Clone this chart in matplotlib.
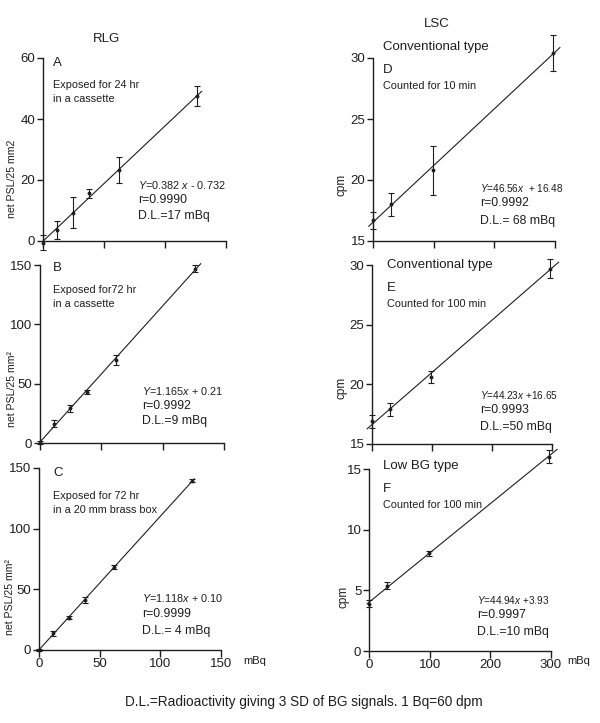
import matplotlib
matplotlib.use("Agg")
import matplotlib.pyplot as plt
import numpy as np

plt.rcParams['font.family'] = ['Liberation Sans', 'DejaVu Sans']
plt.rcParams['mathtext.fontset'] = 'custom'
plt.rcParams['mathtext.it'] = 'Liberation Sans:italic'
plt.rcParams['mathtext.rm'] = 'Liberation Sans'

INK = '#1e1e1e'

# RLG panels, x in mBq
x_rlg = [0, 11.5, 24.5, 38, 62, 126.5]
y_a = [-0.5, 3.7, 9.3, 15.6, 23.3, 47.4]
err_a = [2.5, 3.0, 5.0, 1.6, 4.4, 3.3]
y_b = [0.3, 16.3, 29.4, 42.9, 70.0, 147.0]
err_b = [1.5, 3.0, 3.0, 2.0, 4.0, 3.0]
y_c = [0.0, 13.8, 26.7, 41.3, 68.3, 139.6]
err_c = [1.0, 2.0, 1.0, 2.5, 1.5, 1.0]

# LSC panels, x in mBq
x_lsc = [0, 30, 99, 296]
y_d = [16.7, 18.0, 20.8, 30.4]
err_d = [0.7, 0.93, 2.0, 1.45]
y_e = [16.9, 17.9, 20.6, 29.7]
err_e = [0.55, 0.57, 0.5, 0.77]
y_f = [3.9, 5.37, 8.04, 16.03]
err_f = [0.3, 0.3, 0.2, 0.5]

rlg_xticks = [0, 50, 100, 150]
lsc_xticks = [0, 100, 200, 300]

W, H = 600, 723
fig = plt.figure(figsize=(W / 100, H / 100), dpi=100)


def px_axes(x0, x1, ytop, ybot):
    return fig.add_axes([x0 / W, 1 - ybot / H, (x1 - x0) / W, (ybot - ytop) / H])


def ptext(x, y, s, size=7, **kw):
    kw.setdefault('va', 'center')
    fig.text(x / W, 1 - y / H, s, fontsize=size, color=INK, **kw)


def panel(ax, x, y, err, xlim, ylim, yticks, xticks, fit_range, show_xlabels):
    ax.set_xlim(*xlim)
    ax.set_ylim(*ylim)
    for s in ['top', 'right']:
        ax.spines[s].set_visible(False)
    for s in ['left', 'bottom']:
        ax.spines[s].set_color(INK)
        ax.spines[s].set_linewidth(1.0)
    ax.set_yticks(yticks)
    ax.set_xticks(xticks)
    ax.tick_params(axis='y', direction='out', length=4, width=1, pad=1.5,
                   labelsize=9.5, colors=INK)
    ax.tick_params(axis='x', direction='out', length=5, width=1, pad=0.5,
                   labelsize=9.5, colors=INK, labelbottom=show_xlabels)
    ax.patch.set_alpha(0)
    ax.errorbar(x, y, yerr=err, fmt='o', ms=1.8, color=INK, ecolor=INK,
                elinewidth=0.8, capsize=2.2, capthick=0.8, clip_on=False)
    k, b = np.polyfit(x, y, 1)
    xs = np.array(fit_range)
    ax.plot(xs, k * xs + b, color=INK, lw=0.8, clip_on=False)


axA = px_axes(43, 226, 58, 241)
panel(axA, x_rlg, y_a, err_a, (0, 150), (0, 60), [0, 20, 40, 60], rlg_xticks, [0, 130], False)
axB = px_axes(40, 224, 265, 443)
panel(axB, x_rlg, y_b, err_b, (0, 150), (0, 150), [0, 50, 100, 150], rlg_xticks, [0, 131], False)
axC = px_axes(39, 221, 468, 650)
panel(axC, x_rlg, y_c, err_c, (0, 150), (0, 150), [0, 50, 100, 150], rlg_xticks, [0, 128], True)

axD = px_axes(373, 555, 58, 241)
panel(axD, x_lsc, y_d, err_d, (0, 300), (15, 30), [15, 20, 25, 30], lsc_xticks, [-7, 308], False)
axE = px_axes(372, 552, 265, 444)
panel(axE, x_lsc, y_e, err_e, (0, 300), (15, 30), [15, 20, 25, 30], lsc_xticks, [-8, 311], False)
axF = px_axes(369, 551, 469, 651)
panel(axF, x_lsc, y_f, err_f, (0, 300), (0, 15), [0, 5, 10, 15], lsc_xticks, [-3, 310], True)

# column headings
ptext(107, 39, 'RLG', size=9.5, ha='center')
ptext(437, 24, 'LSC', size=9.5, ha='center')

# RLG annotations
ptext(53, 63, 'A', size=9.5)
ptext(53, 85, 'Exposed for 24 hr', size=7.8)
ptext(53, 99, 'in a cassette', size=7.8)
ptext(138, 185, '$Y$=0.382 $x$ - 0.732', size=7.8)
ptext(138, 200, 'r=0.9990', size=8.8)
ptext(138, 216, 'D.L.=17 mBq', size=8.8)
ptext(12, 179, 'net PSL/25 mm2', size=7.6, rotation=90, ha='center')

ptext(53, 268, 'B', size=9.5)
ptext(53, 290, 'Exposed for72 hr', size=7.8)
ptext(53, 304, 'in a cassette', size=7.8)
ptext(142, 391, '$Y$=1.165$x$ + 0.21', size=7.8)
ptext(142, 406, 'r=0.9992', size=8.8)
ptext(142, 421, 'D.L.=9 mBq', size=8.8)
ptext(12, 389, 'net PSL/25 mm²', size=7.6, rotation=90, ha='center')

ptext(53, 473, 'C', size=9.5)
ptext(53, 496, 'Exposed for 72 hr', size=7.8)
ptext(53, 510, 'in a 20 mm brass box', size=7.8)
ptext(142, 598, '$Y$=1.118$x$ + 0.10', size=7.8)
ptext(142, 614, 'r=0.9999', size=8.8)
ptext(142, 631, 'D.L.= 4 mBq', size=8.8)
ptext(10, 597, 'net PSL/25 mm²', size=7.6, rotation=90, ha='center')
ptext(243, 661, 'mBq', size=8)

# LSC annotations
ptext(383, 47, 'Conventional type', size=9.5)
ptext(383, 70, 'D', size=9.5)
ptext(383, 86, 'Counted for 10 min', size=7.8)
ptext(480, 188, '$Y$=46.56$x$  + 16.48', size=7.2)
ptext(480, 203, 'r=0.9992', size=8.8)
ptext(480, 221, 'D.L.= 68 mBq', size=8.8)
ptext(342, 185, 'cpm', size=8.5, rotation=90, ha='center')

ptext(387, 265, 'Conventional type', size=9.5)
ptext(387, 288, 'E', size=9.5)
ptext(387, 304, 'Counted for 100 min', size=7.8)
ptext(480, 395, '$Y$=44.23$x$ +16.65', size=7.2)
ptext(480, 410, 'r=0.9993', size=8.8)
ptext(480, 427, 'D.L.=50 mBq', size=8.8)
ptext(342, 388, 'cpm', size=8.5, rotation=90, ha='center')

ptext(383, 466, 'Low BG type', size=9.5)
ptext(383, 489, 'F', size=9.5)
ptext(383, 505, 'Counted for 100 min', size=7.8)
ptext(477, 600, '$Y$=44.94$x$ +3.93', size=7.2)
ptext(477, 615, 'r=0.9997', size=8.8)
ptext(477, 632, 'D.L.=10 mBq', size=8.8)
ptext(343, 597, 'cpm', size=8.5, rotation=90, ha='center')
ptext(567, 661, 'mBq', size=8)

ptext(304, 702, 'D.L.=Radioactivity giving 3 SD of BG signals. 1 Bq=60 dpm', size=9.8, ha='center')

fig.savefig('out.png', dpi=100, facecolor='white')
